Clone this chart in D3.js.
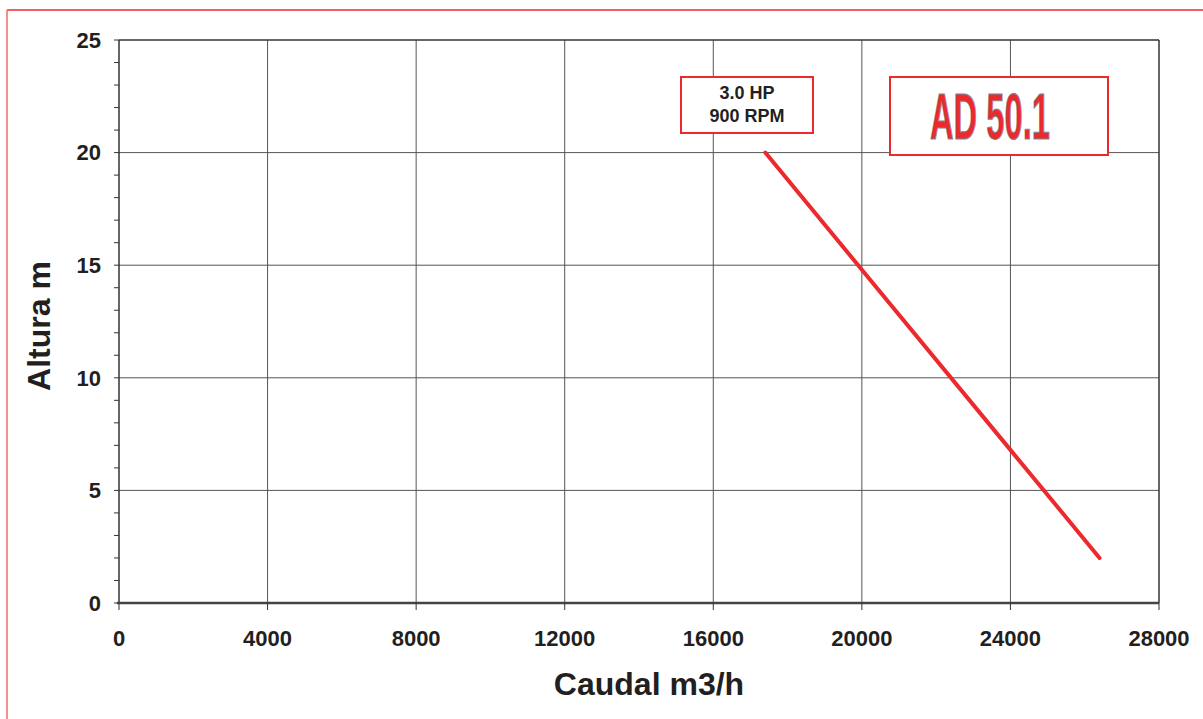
<!DOCTYPE html>
<html>
<head>
<meta charset="utf-8">
<script src="https://cdn.jsdelivr.net/npm/d3@7"></script>
<style>
  body { margin: 0; background: #fff; }
  svg { display: block; font-family: "Liberation Sans", Arial, sans-serif; }
</style>
</head>
<body>
<svg id="chart" width="1203" height="719"></svg>
<script>
// data
const caudal = [17400, 20000, 24000, 26400];
const altura = [20, 14.8, 6.8, 2];
const xTicks = [0, 4000, 8000, 12000, 16000, 20000, 24000, 28000];
const yTicks = [0, 5, 10, 15, 20, 25];
const yMinor = d3.range(0, 26, 1);
const powerLabel = ["3.0 HP", "900 RPM"];
const modelLabel = "AD 50.1";

const svg = d3.select("#chart");
const margin = { top: 40, right: 44, bottom: 116, left: 119 };
const width = 1203 - margin.left - margin.right;
const height = 719 - margin.top - margin.bottom;

// outer frame, runs off the page on right and bottom
svg.append("line").attr("x1", 7).attr("x2", 1210).attr("y1", 10).attr("y2", 10)
  .attr("stroke", "#ee2b2f").attr("stroke-width", 1.5);
svg.append("line").attr("x1", 7).attr("x2", 7).attr("y1", 10).attr("y2", 730)
  .attr("stroke", "#f26a6e").attr("stroke-width", 1.5);

const x = d3.scaleLinear().domain([0, 28000]).range([0, width]);
const y = d3.scaleLinear().domain([0, 25]).range([height, 0]);

const g = svg.append("g").attr("transform", `translate(${margin.left},${margin.top})`);

// grid
g.selectAll("line.vgrid").data(xTicks.slice(1, -1)).enter().append("line")
  .attr("class", "vgrid")
  .attr("x1", d => x(d)).attr("x2", d => x(d))
  .attr("y1", 0).attr("y2", height)
  .attr("stroke", "#555").attr("stroke-width", 1);
g.selectAll("line.hgrid").data(yTicks.slice(1, -1)).enter().append("line")
  .attr("class", "hgrid")
  .attr("x1", 0).attr("x2", width)
  .attr("y1", d => y(d)).attr("y2", d => y(d))
  .attr("stroke", "#555").attr("stroke-width", 1);

// frame
g.append("line").attr("x1", 0).attr("x2", width).attr("y1", 0).attr("y2", 0)
  .attr("stroke", "#333").attr("stroke-width", 1.5);
g.append("line").attr("x1", width).attr("x2", width).attr("y1", 0).attr("y2", height)
  .attr("stroke", "#333").attr("stroke-width", 1.5);

// y axis with minor ticks
g.selectAll("line.yminor").data(yMinor).enter().append("line")
  .attr("class", "yminor")
  .attr("x1", -5).attr("x2", 0)
  .attr("y1", d => y(d)).attr("y2", d => y(d))
  .attr("stroke", "#333").attr("stroke-width", 1);
g.append("line").attr("x1", 0).attr("x2", 0).attr("y1", 0).attr("y2", height)
  .attr("stroke", "#333").attr("stroke-width", 1.5);
g.selectAll("text.ylab").data(yTicks).enter().append("text")
  .attr("class", "ylab")
  .attr("x", -18).attr("y", d => y(d)).attr("dy", "0.35em")
  .attr("text-anchor", "end")
  .style("font-size", "22px").style("font-weight", "bold").attr("fill", "#231f20")
  .text(d => d);

// x axis
g.append("line").attr("x1", -2).attr("x2", width).attr("y1", height).attr("y2", height)
  .attr("stroke", "#444").attr("stroke-width", 2.5);
g.selectAll("line.xtick").data(xTicks).enter().append("line")
  .attr("class", "xtick")
  .attr("x1", d => x(d)).attr("x2", d => x(d))
  .attr("y1", height).attr("y2", height + 7)
  .attr("stroke", "#333").attr("stroke-width", 1);
g.selectAll("text.xlab").data(xTicks).enter().append("text")
  .attr("class", "xlab")
  .attr("x", d => x(d)).attr("y", height + 43)
  .attr("text-anchor", "middle")
  .style("font-size", "22px").style("font-weight", "bold").attr("fill", "#231f20")
  .text(d => d);

// axis titles
svg.append("text")
  .attr("x", 649).attr("y", 695)
  .attr("text-anchor", "middle")
  .style("font-size", "32px").style("font-weight", "bold").attr("fill", "#231f20")
  .text("Caudal m3/h");
svg.append("text")
  .attr("transform", "translate(50,326) rotate(-90)")
  .attr("text-anchor", "middle")
  .style("font-size", "32px").style("font-weight", "bold").attr("fill", "#231f20")
  .text("Altura m");

// pump curve
const line = d3.line().x((d, i) => x(caudal[i])).y(d => y(d));
g.append("path")
  .datum(altura)
  .attr("d", line)
  .attr("fill", "none")
  .attr("stroke", "#ec2a2e")
  .attr("stroke-width", 4)
  .attr("stroke-linecap", "round");

// power label box
svg.append("rect").attr("x", 681).attr("y", 77).attr("width", 132).attr("height", 56)
  .attr("fill", "#fff").attr("stroke", "#ec2a2e").attr("stroke-width", 2);
svg.selectAll("text.plab").data(powerLabel).enter().append("text")
  .attr("class", "plab")
  .attr("x", 747).attr("y", (d, i) => 99 + i * 23)
  .attr("text-anchor", "middle")
  .style("font-size", "18px").style("font-weight", "bold").attr("fill", "#231f20")
  .text(d => d);

// model label box
svg.append("rect").attr("x", 890).attr("y", 77).attr("width", 218).attr("height", 78)
  .attr("fill", "#fff").attr("stroke", "#ec2a2e").attr("stroke-width", 2);
svg.append("text")
  .attr("x", 930).attr("y", 139)
  .attr("textLength", 120).attr("lengthAdjust", "spacingAndGlyphs")
  .style("font-family", "'Liberation Sans Narrow', 'Liberation Sans', sans-serif")
  .style("font-size", "64px").style("font-weight", "bold")
  .attr("fill", "#ec2a2e").attr("stroke", "#7a8a96").attr("stroke-width", 1)
  .text(modelLabel);
</script>
</body>
</html>
